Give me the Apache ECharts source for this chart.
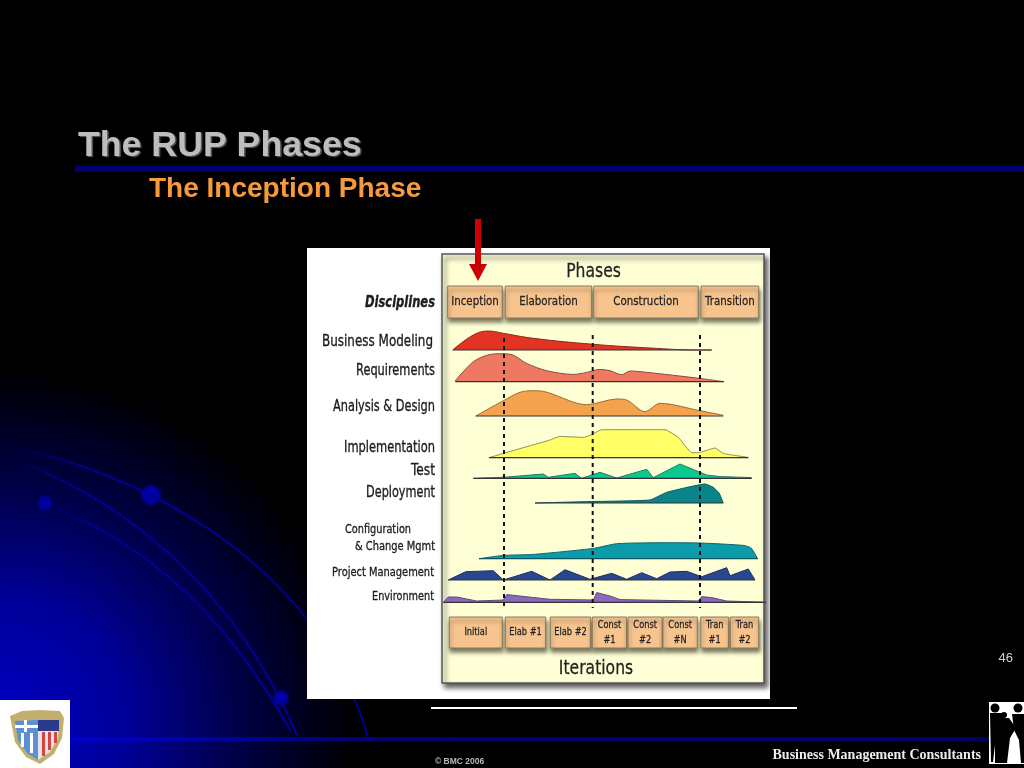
<!DOCTYPE html>
<html><head><meta charset="utf-8">
<style>html,body{margin:0;padding:0;background:#000;overflow:hidden}#c{width:1024px;height:768px}</style>
<script src="https://cdn.jsdelivr.net/npm/echarts@6/dist/echarts.min.js"></script>
</head><body><div id="c"></div>
<script>
// Effort humps: [timeline position, effort]
const businessModeling=[[10.7,0],[31.3,15],[46.3,19],[61.3,16.7],[91.3,11.7],[151.3,5.7],[208,2],[254.7,0],[269.7,0]];
const requirements=[[13.3,1],[31.3,20],[47,27],[61,28],[71.3,26.5],[84.7,18.3],[104.7,11],[131.3,7.3],[144.7,9.3],[158,12.3],[168,11],[179.7,7],[188,10.7],[208,9],[258,3.3],[282,0]];
const analysisDesign=[[33.7,0],[61.3,15.3],[78,23.7],[91.3,25.3],[101.3,24.7],[144.7,11.3],[174.7,17],[184.7,16],[203,4.3],[218,12.7],[258,5.3],[281.3,0.7]];
const implementation=[[47,0],[61.3,4.3],[108,17.7],[118,21.3],[141.3,20.3],[148,22.3],[159.7,28],[223,28],[236.3,20.3],[249.7,5],[256.3,5],[273,9.7],[281.3,4.3],[306.3,0.3]];
const test=[[31.3,0],[61.3,1],[101.3,4.3],[106.3,1],[133,5],[139.7,0],[158,6],[174.7,0.3],[204.7,9],[211.3,0.7],[238,14.3],[264.7,3.3],[278,1.7],[309.7,0.7]];
const deployment=[[93,0],[141.3,1.3],[208,3],[224.7,10.7],[263,19],[271.3,15.7],[277.3,9.7],[281.3,0]];
const configChange=[[37,0],[61.3,3.3],[91.3,4.3],[151.3,10.3],[174.7,15],[224.7,16],[258,15.7],[301.3,13.3],[309,10.7],[315.7,0]];
const projectMgmt=[[6.3,0],[23.7,8.3],[51.3,9.3],[61.3,0],[89.7,8.7],[108,0],[123,10.3],[148,0.7],[169.7,6.7],[184.7,0.7],[199.7,7.3],[214.7,1.3],[228,8],[244.7,8.7],[259.7,3.3],[284.7,12.3],[288,4.3],[306.3,11],[313,0]];
const environment=[[1.3,0],[6.3,5.3],[14.7,5.3],[34.7,1.3],[61.3,2.3],[64.7,7.7],[108,3],[151.3,2.3],[154.7,9.7],[168,6.3],[178,2.7],[256.3,1.3],[259.7,5.7],[269.7,4.7],[284.7,1.3],[327,0]];

const phaseNames=['Inception','Elaboration','Construction','Transition'];
const phaseStart=[5.7,63.3,151.7,259];
const phaseEnd=[60.3,149.7,256.3,316.7];
const iterationNames=['Initial','Elab #1','Elab #2','Const\n#1','Const\n#2','Const\n#N','Tran\n#1','Tran\n#2'];
const iterationStart=[7.3,63.3,108.3,150.3,186,221,258.7,288.3];
const iterationEnd=[60.3,103.7,148.7,184.7,220.3,255.3,286.7,316.7];
const phaseBoundaries=[62,150.7,258];

const disciplineNames=['Business Modeling','Requirements','Analysis & Design','Implementation','Test','Deployment','Configuration\n& Change Mgmt','Project Management','Environment'];
const disciplineValues=[businessModeling,requirements,analysisDesign,implementation,test,deployment,configChange,projectMgmt,environment];

// ---------- styling and layout ----------
const fills=['#E13422','#EE7862','#F5A24E','#FFFF66','#0AC98F','#0A8488','#0C9BA8','#28478F','#8A68BC'];
const edges=['#8a2a1c','#8a4e3e','#9a6c38','#8f8f58','#2a7a60','#0a5a5c','#0a6570','#1c2f65','#5a4a80'];
const smooths=[.4,.3,.3,.12,0,.12,.2,0,0];
const baselines=[350,381.7,416,457.7,478.3,503,558.7,580,602.3];
const PL=442,PT=254,PW=322,PH=429,HB=40;

const grids=[{left:PL,top:PT,width:PW,height:PH}];
const xAxes=[{type:'value',gridIndex:0,min:0,max:PW,show:false}];
const yAxes=[{type:'value',gridIndex:0,min:0,max:PH,inverse:true,show:false}];
const series=[];
disciplineValues.forEach((vals,i)=>{
  const g=i+1;
  grids.push({left:PL,top:baselines[i]-HB,width:PW,height:HB});
  xAxes.push({type:'value',gridIndex:g,min:0,max:PW,show:false});
  yAxes.push({type:'value',gridIndex:g,min:0,max:HB,show:false});
  series.push({type:'line',name:disciplineNames[i],xAxisIndex:g,yAxisIndex:g,data:vals,showSymbol:false,clip:false,z:3,smooth:smooths[i],
    lineStyle:{color:edges[i],width:1},areaStyle:{color:fills[i],opacity:1,origin:0}});
  series.push({type:'line',xAxisIndex:g,yAxisIndex:g,silent:true,showSymbol:false,clip:false,z:3,
    data:[[vals[0][0],0],[vals[vals.length-1][0],0]],lineStyle:{color:i===6?'#0a5560':'#333',width:1.2}});
});
// phase boundary dashed lines
const bTop=81,bBottom=354;
phaseBoundaries.forEach((b,i)=>series.push({type:'line',xAxisIndex:0,yAxisIndex:0,showSymbol:false,silent:true,z:5,
  data:[[b,i===0?84:bTop],[b,bBottom]],lineStyle:{color:'#111',width:2,type:[4,4]}}));

// boxes
function boxRender(names,top,bottom,font,sx){
  return function(p,api){
    const a=api.coord([api.value(0),top]),b=api.coord([api.value(1),bottom]);
    return {type:'group',children:[
      {type:'rect',shape:{x:a[0],y:a[1],width:b[0]-a[0],height:b[1]-a[1]},
       style:{fill:'#F8C48E',stroke:'#8a7a60',lineWidth:1,shadowColor:'rgba(60,60,40,.7)',shadowBlur:4,shadowOffsetX:1,shadowOffsetY:4}},
      {type:'text',x:(a[0]+b[0])/2,y:(a[1]+b[1])/2,scaleX:sx,
       style:{text:names[p.dataIndex],font:font,fill:'#222',align:'center',verticalAlign:'middle',lineHeight:15,stroke:'#333',lineWidth:.3}}
    ]};
  };
}
series.push({type:'custom',xAxisIndex:0,yAxisIndex:0,z:4,clip:false,
  encode:{x:[0,1],y:[]},renderItem:boxRender(phaseNames,32,64,'13px "DejaVu Sans"',.79),
  data:phaseNames.map((n,i)=>[phaseStart[i],phaseEnd[i]])});
series.push({type:'custom',xAxisIndex:0,yAxisIndex:0,z:4,clip:false,
  encode:{x:[0,1],y:[]},renderItem:boxRender(iterationNames,363,394,'11px "DejaVu Sans"',.75),
  data:iterationNames.map((n,i)=>[iterationStart[i],iterationEnd[i]])});

// ---------- slide decoration ----------
const mc=document.createElement('canvas').getContext('2d');
function fit(text,font,w){mc.font=font;return w/mc.measureText(text).width;}
function label(text,right,cy,w,font){
  font=font||'15px "DejaVu Sans"';
  return {type:'text',z:10,x:right,y:cy+1,scaleX:fit(text,font,w),
    style:{text:text,font:font,fill:'#1c1c1c',align:'right',verticalAlign:'middle',stroke:'#2a2a2a',lineWidth:.35}};
}
const arcStroke={type:'linear',x:0,y:0,x2:1,y2:0,colorStops:[{offset:0,color:'#000040'},{offset:.2,color:'#000090'},{offset:1,color:'#00009A'}]};
function arc(x1,y1,cx1,cy1,cx2,cy2,x2,y2){return {type:'bezierCurve',shape:{x1:x1,y1:y1,cpx1:cx1,cpy1:cy1,cpx2:cx2,cpy2:cy2,x2:x2,y2:y2},style:{stroke:arcStroke,lineWidth:2,fill:null}};}
function ball(x,y,r){return {type:'circle',shape:{cx:x,cy:y,r:r},style:{fill:{type:'radial',x:.5,y:.5,r:.5,colorStops:[{offset:0,color:'#0000A8'},{offset:.75,color:'#00009A'},{offset:1,color:'rgba(0,0,120,0.25)'}]}}};}
function poly(pts,fill){return {type:'polygon',z:11,shape:{points:pts},style:{fill:fill}};}

const graphic=[
  {type:'rect',shape:{x:0,y:0,width:1024,height:768},style:{fill:'#000'}},
  {type:'circle',shape:{cx:0,cy:725,r:355},style:{fill:{type:'radial',x:.5,y:.5,r:.5,colorStops:[{offset:0,color:'#0000C4'},{offset:.35,color:'#00009A'},{offset:.65,color:'#00004C'},{offset:1,color:'#000'}]}}},
  arc(20,449,120,470,311,548,368,737),
  arc(17,460,130,505,235,590,297,735),
  arc(45,503,125,535,216,595,291,732),
  ball(151,495,11),ball(45,503,8),ball(281,698,8.5),
  {type:'rect',shape:{x:75,y:165.5,width:949,height:6},style:{fill:'#00006E'}},
  {type:'rect',shape:{x:70,y:737,width:930,height:4},style:{fill:{type:'linear',x:0,y:0,x2:1,y2:0,colorStops:[{offset:0,color:'#0000D0'},{offset:.3,color:'#000078'},{offset:.97,color:'#000070'},{offset:1,color:'#000040'}]}}},
  // picture
  {type:'rect',shape:{x:307,y:248,width:463,height:451},style:{fill:'#fff'}},
  {type:'rect',shape:{x:PL,y:PT,width:PW,height:PH},style:{fill:'#FFFFD6',stroke:'#555',lineWidth:1.5,shadowColor:'rgba(40,40,40,.8)',shadowBlur:5,shadowOffsetX:3,shadowOffsetY:4}},
  // white rule
  {type:'rect',shape:{x:431,y:707,width:366,height:2},style:{fill:'#fff'}},
  // titles
  {type:'text',z:10,x:78,y:146,style:{text:'The RUP Phases',font:'bold 35.7px "Liberation Sans"',fill:'#BDBDBD',verticalAlign:'middle',textShadowColor:'#5a5a5a',textShadowOffsetX:1.5,textShadowOffsetY:1.5,textShadowBlur:1}},
  {type:'text',z:10,x:149,y:189,style:{text:'The Inception Phase',font:'bold 28px "Liberation Sans"',fill:'#F79A3C',verticalAlign:'middle'}},
  {type:'text',z:10,x:1013,y:658,style:{text:'46',font:'13px "Liberation Sans"',fill:'#D0D0D0',align:'right',verticalAlign:'middle'}},
  {type:'text',z:10,x:981,y:755,style:{text:'Business Management Consultants',font:'bold 14px "Liberation Serif"',fill:'#EDEDED',align:'right',verticalAlign:'middle'}},
  {type:'text',z:10,x:435,y:762,style:{text:'© BMC 2006',font:'bold 8.5px "Liberation Sans"',fill:'#B8B8B8',verticalAlign:'middle'}},
  // arrow
  {type:'rect',z:10,shape:{x:475,y:219,width:6,height:46},style:{fill:'#CC0000'}},
  poly([[469,264],[487,264],[478,281]],'#CC0000'),
  // panel headings
  {type:'text',z:10,x:593.5,y:272,scaleX:.78,style:{text:'Phases',font:'20px "DejaVu Sans"',fill:'#222',align:'center',verticalAlign:'middle',stroke:'#333',lineWidth:.3}},
  {type:'text',z:10,x:596,y:668.5,scaleX:.78,style:{text:'Iterations',font:'20px "DejaVu Sans"',fill:'#222',align:'center',verticalAlign:'middle',stroke:'#333',lineWidth:.3}},
  label('Disciplines',435,302,70,'italic bold 15px "DejaVu Sans"'),
  label('Business Modeling',433,341,111),
  label('Requirements',435,370,79),
  label('Analysis & Design',435,406,102),
  label('Implementation',435,447,91),
  label('Test',435,470,24),
  label('Deployment',435,492,69),
  label('Configuration',411,529,66,'13px "DejaVu Sans"'),
  label('& Change Mgmt',435,546,80,'13px "DejaVu Sans"'),
  label('Project Management',434,572,102,'13px "DejaVu Sans"'),
  label('Environment',434,596,62,'13px "DejaVu Sans"'),
  // left shield logo
  {type:'rect',z:10,shape:{x:0,y:700,width:70,height:68},style:{fill:'#fff'}},
  poly([[10,716],[22,711],[40,710],[60,711],[64,718],[62,738],[54,754],[40,764],[26,757],[15,742]],'#C2AE6E'),
  poly([[15,721],[38,720],[38,760],[27,753],[18,740]],'#5C8FD6'),
  poly([[38,720],[59,720],[58,738],[50,752],[38,760]],'#E9E3E3'),
  poly([[38,720],[59,720],[59,731],[38,731]],'#2B3B8C'),
  {type:'rect',z:12,shape:{x:15,y:725,width:23,height:3},style:{fill:'#fff'}},
  {type:'rect',z:12,shape:{x:24,y:720,width:3,height:12},style:{fill:'#fff'}},
  {type:'rect',z:12,shape:{x:21,y:733,width:3,height:14},style:{fill:'#fff'}},
  {type:'rect',z:12,shape:{x:30,y:733,width:3,height:20},style:{fill:'#fff'}},
  {type:'rect',z:12,shape:{x:42,y:732,width:3,height:24},style:{fill:'#D64545'}},
  {type:'rect',z:12,shape:{x:48,y:732,width:3,height:18},style:{fill:'#D64545'}},
  {type:'rect',z:12,shape:{x:54,y:732,width:3,height:11},style:{fill:'#D64545'}},
  // right silhouette
  {type:'rect',z:10,shape:{x:989,y:702,width:35,height:62},style:{fill:'#fff'}},
  {type:'circle',z:11,shape:{cx:995,cy:708,r:4.5},style:{fill:'#000'}},
  {type:'circle',z:11,shape:{cx:1018,cy:708,r:4.5},style:{fill:'#000'}},
  {type:'circle',z:11,shape:{cx:1004,cy:715,r:3},style:{fill:'#000'}},
  poly([[990,713],[1003,713],[1003,735],[1001,763],[995,763],[995,745],[993,762],[991,762]],'#000'),
  poly([[1012,714],[1024,714],[1024,763],[1021,763],[1019,740],[1014,730]],'#000'),
  poly([[1001,718],[1009,718],[1016,728],[1010,738],[1007,763],[1001,763]],'#000')
];

const chart=echarts.init(document.getElementById('c'),null,{renderer:'canvas'});
chart.setOption({animation:false,backgroundColor:'#000',legend:{show:false},tooltip:{show:false},
  grid:grids,xAxis:xAxes,yAxis:yAxes,series:series,graphic:{elements:graphic}});
</script></body></html>
